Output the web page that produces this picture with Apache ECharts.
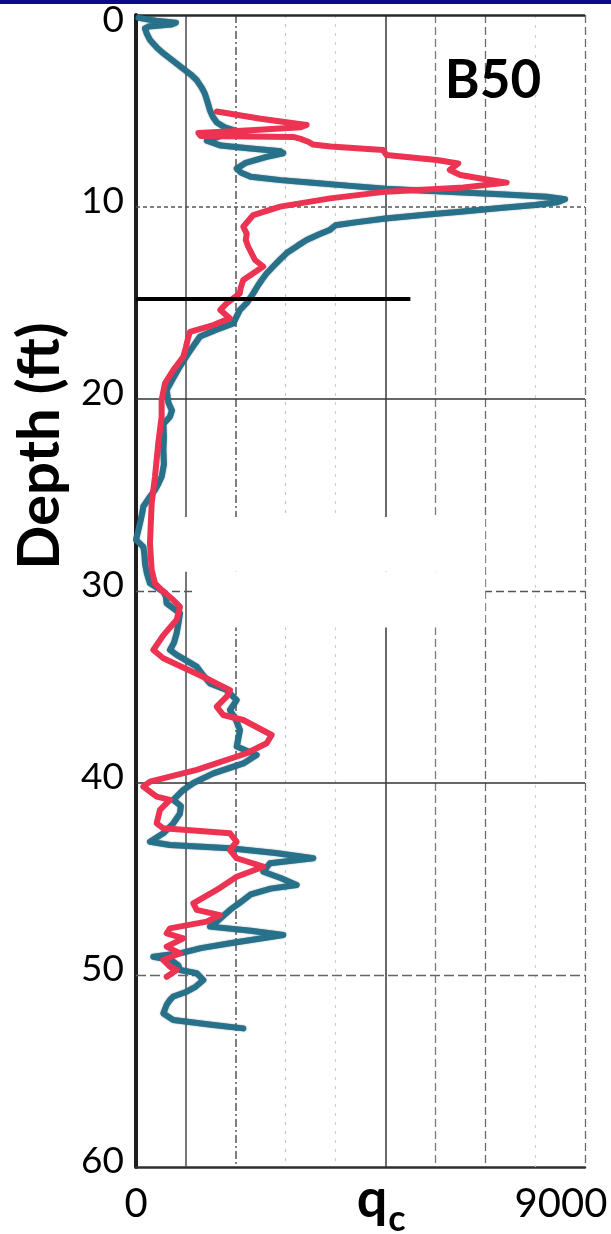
<!DOCTYPE html>
<html>
<head>
<meta charset="utf-8">
<script src="https://cdn.jsdelivr.net/npm/echarts@6/dist/echarts.min.js"></script>
<style>
html,body{margin:0;padding:0;background:#fff;}
#chart{width:611px;height:1234px;}
</style>
</head>
<body>
<div id="chart"></div>
<script>
// ---- data (depth in ft, qc) ----
const blueDepth = [0.15,0.3,0.4,0.5,0.6,0.7,1.0,1.3,1.7,2.0,2.4,2.8,3.1,3.4,3.8,4.1,4.5,4.95,5.3,5.6,5.85,6.0,6.3,6.55,6.65,6.8,6.95,7.1,7.2,7.4,7.7,8.0,8.2,8.42,8.6,8.75,8.9,9.05,9.15,9.25,9.35,9.46,9.6,9.75,9.9,10.05,10.24,10.4,10.6,10.8,10.95,11.2,11.45,11.72,12.0,12.4,12.75,13.1,13.45,13.8,14.15,14.5,15.0,15.36,15.7,16.06,16.4,16.75,17.5,18.3,18.9,19.53,20.2,20.6,20.92,21.3,22.0,22.66,23.4,24.05,24.4,24.74,25.2,25.6,26.0,26.47,26.9,27.34,27.7,28.1,28.56,29.1,29.6,30.03,30.3,30.64,31.16,31.68,32.2,32.7,33.07,33.33,33.94,34.4,34.81,35.16,35.68,36.2,36.7,37.24,37.7,38.1,38.54,38.98,39.5,40.0,40.36,40.88,41.2,41.6,42.1,42.62,43.06,43.23,43.4,43.65,43.92,44.18,44.62,44.95,45.31,45.5,45.8,46.2,46.61,47.22,47.48,47.7,47.92,48.35,48.6,48.87,49.05,49.22,49.5,49.74,49.9,50.26,50.6,50.87,51.12,51.3,51.55,52.0,52.34,52.6,52.78];
const blueQc = [50,400,800,700,250,180,220,280,420,550,750,950,1100,1220,1320,1380,1430,1480,1540,1620,1780,1950,1700,1420,1380,1700,2300,2900,2950,2600,2200,2020,2100,2300,2900,3600,4300,5000,5800,6550,7400,8230,8600,8450,8000,7300,6550,5800,5000,4400,4000,3880,3650,3420,3250,3020,2880,2750,2620,2520,2430,2350,2220,2084,2018,1950,1600,1283,1080,882,750,615,650,720,681,548,560,548,560,514,450,380,250,147,120,80,40,0,147,170,180,220,280,548,600,615,882,850,815,760,681,815,1216,1350,1483,1817,2018,1884,2000,2084,2050,2018,2418,2151,1550,1150,948,748,900,880,748,548,280,681,1884,2800,3553,2685,2552,2900,3220,2700,2300,2100,1884,1617,1483,2300,2952,1884,1300,882,347,700,850,882,1216,1350,1200,1016,748,681,615,548,748,1550,2151];

const redDepth = [5.03,5.4,5.73,5.85,6.0,6.15,6.3,6.35,6.45,6.6,6.75,6.85,7.03,7.29,7.55,7.73,8.07,8.33,8.59,8.73,8.98,9.2,9.55,9.98,10.42,11.03,11.4,11.72,12.07,12.76,13.1,13.45,13.8,14.2,14.5,15.02,15.36,15.8,16.15,16.5,16.76,17.3,17.8,18.49,19.18,20.05,20.92,22.3,24.05,25.43,27.52,28.9,29.6,30.03,30.47,30.82,31.5,32.3,33.07,33.5,34.64,35.16,35.5,36.02,36.46,36.72,37.5,37.93,38.45,39.32,39.93,40.19,40.71,40.88,41.4,42.1,42.36,42.62,43.06,43.49,43.92,44.36,44.88,45.57,46.27,46.61,46.88,47.22,47.57,47.83,48.09,48.52,48.87,49.22,49.57,49.74,50.09];
const redQc = [1620,2500,3420,3300,2300,1250,1300,3150,3300,3450,3550,3900,4950,5020,6030,6460,6290,6500,7090,7430,6560,5020,3890,2890,2350,2150,2220,2200,2250,2385,2550,2350,2150,2100,2080,1817,1690,1880,1550,1082,1050,1000,948,748,581,514,514,447,380,314,280,314,380,548,748,882,815,550,347,548,1483,1884,1817,1617,1750,2151,2719,2619,2218,1216,280,147,414,681,480,414,548,1884,2018,1884,2018,2552,2018,1617,1149,1216,1683,1416,681,615,948,615,882,548,681,815,615];

const depthTicks = [0,10,20,30,40,50,60];
const qcTickLabels = ['0','9000'];
const refLine = {depth: 14.8, qcStart: 0, qcEnd: 5500};
const boreLabel = 'B50';

// ---- build ----
const pairs = (q, d) => q.map((v, i) => [v, d[i]]);

const vGrid = [
  {xAxis:1000, lineStyle:{type:'solid', color:'#4a4a4a', width:1.5}},
  {xAxis:2000, lineStyle:{type:[8,3,2,3], color:'#555', width:1.5}},
  {xAxis:3000, lineStyle:{type:[3,6], color:'#c8c8c8', width:1.2}},
  {xAxis:4000, lineStyle:{type:[3,6], color:'#cfcfcf', width:1.2}},
  {xAxis:5000, lineStyle:{type:'solid', color:'#3a3a3a', width:1.5}},
  {xAxis:6000, lineStyle:{type:[8,4], color:'#7a7a7a', width:1.3}},
  {xAxis:7000, lineStyle:{type:[8,4], color:'#6a6a6a', width:1.3}},
  {xAxis:8000, lineStyle:{type:[3,7], color:'#d0d0d0', width:1.2}},
  {xAxis:9000, lineStyle:{type:[8,4], color:'#6a6a6a', width:1.3}}
];
const hGrid = [
  {yAxis:0, lineStyle:{type:'solid', color:'#2a2a2a', width:2.5}},
  {yAxis:10, lineStyle:{type:[4,3], color:'#555', width:1.6}},
  {yAxis:20, lineStyle:{type:'solid', color:'#333', width:1.6}},
  {yAxis:30, lineStyle:{type:[8,4], color:'#555', width:1.4}},
  {yAxis:40, lineStyle:{type:'solid', color:'#333', width:1.6}},
  {yAxis:50, lineStyle:{type:[10,4], color:'#666', width:1.4}}
];

const chart = echarts.init(document.getElementById('chart'), null, {renderer:'canvas'});
chart.setOption({
  animation:false,
  backgroundColor:'#ffffff',
  grid:{left:136, right:26, top:15, bottom:67, containLabel:false},
  xAxis:{
    type:'value', min:0, max:9000, interval:9000, position:'bottom',
    axisLine:{show:true, onZero:false, lineStyle:{color:'#2e2e2e', width:2.5}},
    axisTick:{show:false}, splitLine:{show:false},
    axisLabel:{
      margin:17, color:'#000', fontFamily:'Lato', fontSize:40,
      formatter:(v)=> v===0 ? '{a|'+qcTickLabels[0]+'}' : '{b|'+qcTickLabels[1]+'}',
      rich:{a:{fontFamily:'Lato', fontSize:40, color:'#000'},
            b:{fontFamily:'Lato', fontSize:40, color:'#000', padding:[0,48,0,0]}}
    }
  },
  yAxis:{
    type:'value', inverse:true, min:0, max:60, interval:10,
    axisLine:{show:true, onZero:false, lineStyle:{color:'#1e1e1e', width:4}},
    axisTick:{show:false}, splitLine:{show:false},
    axisLabel:{
      margin:12, color:'#000', fontFamily:'Lato', fontSize:37,
      formatter:(v)=> depthTicks.indexOf(v)===0 ? '{t|'+v+'}' : '{n|'+v+'}',
      rich:{t:{fontFamily:'Lato', fontSize:37, color:'#000', padding:[10,0,0,0]},
            n:{fontFamily:'Lato', fontSize:37, color:'#000', padding:[0,0,12,0]}}
    }
  },
  series:[
    {name:'grid', type:'line', data:[], silent:true, z:1,
     markLine:{z:1, silent:true, symbol:'none', label:{show:false}, animation:false,
       data:[...vGrid, ...hGrid]}},
    {name:'mask', type:'line', data:[], silent:true, z:2,
     markArea:{z:2, silent:true, itemStyle:{color:'#ffffff', opacity:1, borderWidth:0},
       data:[[{coord:[700,26.15]},{coord:[7000,29.0]}],[{coord:[1200,29.0]},{coord:[7000,31.9]}]]}},
    {name:'blue', type:'line', data:pairs(blueQc, blueDepth), showSymbol:false, z:3,
     lineStyle:{color:'#27718a', width:6, cap:'round', join:'round', shadowColor:'rgba(20,50,60,0.6)', shadowBlur:1.5}},
    {name:'red', type:'line', data:pairs(redQc, redDepth), showSymbol:false, z:4,
     lineStyle:{color:'#ec3352', width:6, cap:'round', join:'round'}},
    {name:'ref', type:'line', data:[], silent:true, z:6,
     markLine:{z:6, silent:true, symbol:'none', label:{show:false},
       data:[[{coord:[refLine.qcStart, refLine.depth]},{coord:[refLine.qcEnd, refLine.depth]}]],
       lineStyle:{color:'#000', width:4, type:'solid'}}}
  ],
  graphic:[
    {type:'rect', left:0, top:0, shape:{width:611, height:4}, style:{fill:'#0b0b86'}, z:10},
    {type:'text', x:493, y:81, style:{text:boreLabel, font:'bold 53px Lato', fill:'#000', textAlign:'center', textVerticalAlign:'middle'}, z:10},
    {type:'text', x:40, y:446, rotation:Math.PI/2, style:{text:'Depth (ft)', font:'bold 58px Lato', fill:'#000', textAlign:'center', textVerticalAlign:'middle'}, z:10},
    {type:'text', x:372, y:1200, style:{text:'q', font:'bold 54px Lato', fill:'#000', textAlign:'center', textVerticalAlign:'middle'}, z:10},
    {type:'text', x:397, y:1219, style:{text:'c', font:'bold 36px Lato', fill:'#000', textAlign:'center', textVerticalAlign:'middle'}, z:10}
  ]
});
</script>
</body>
</html>
